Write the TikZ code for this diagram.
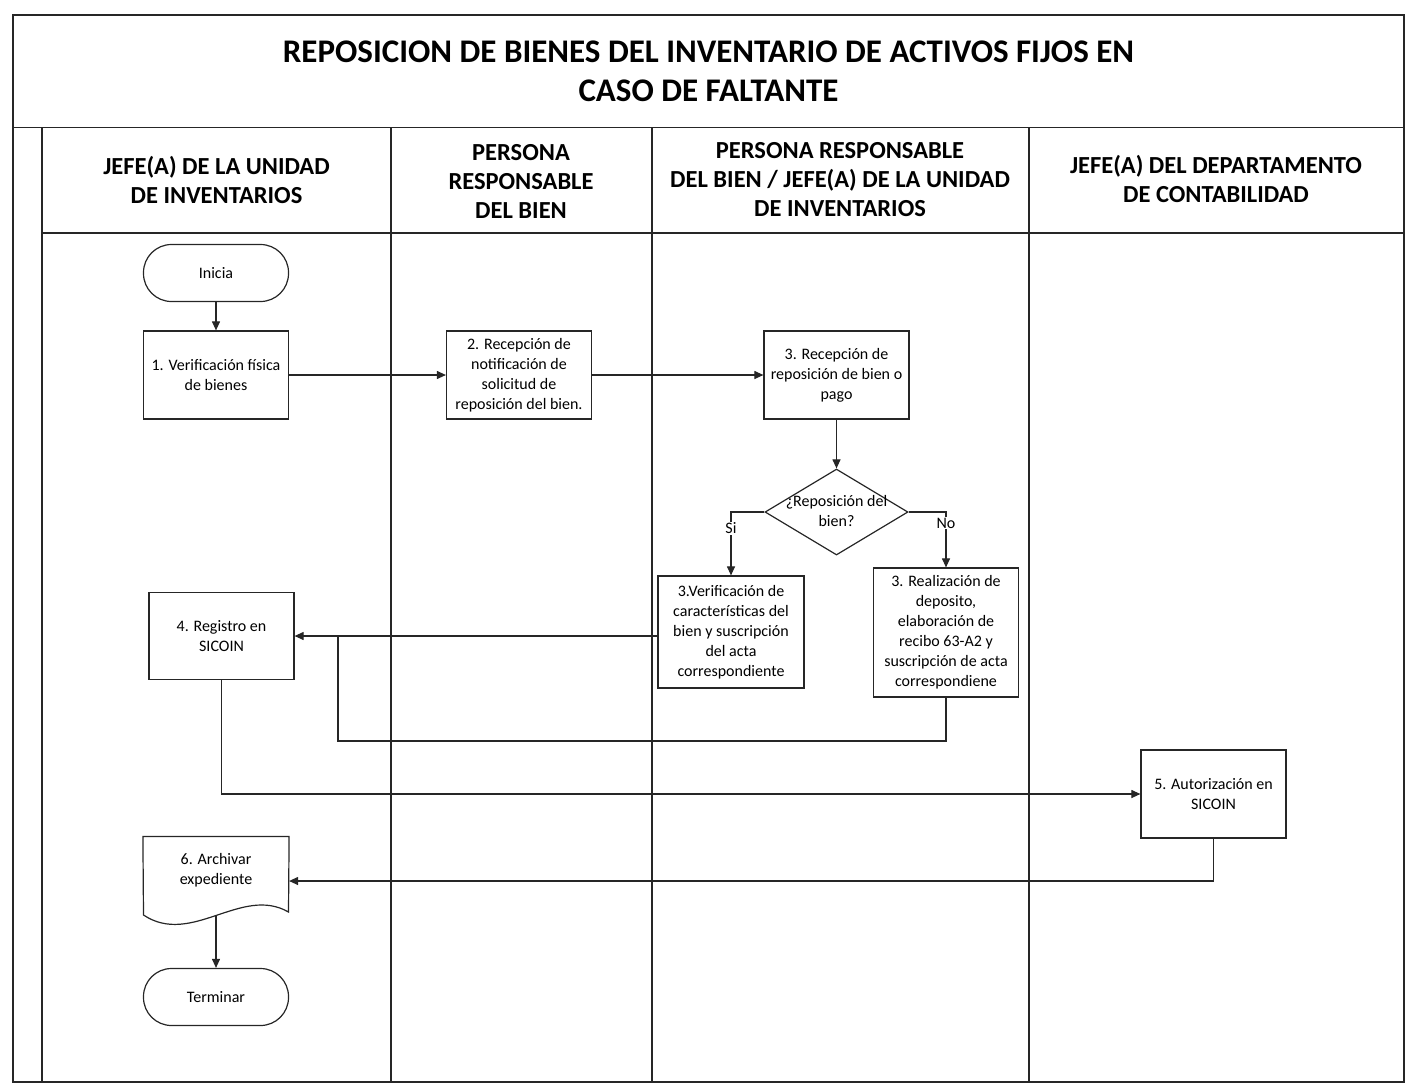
\documentclass[tikz,border=0pt]{standalone}
\usepackage{fontspec}
\setmainfont{Carlito}
\usetikzlibrary{shapes.geometric,arrows.meta,calc}
\begin{document}
\begin{tikzpicture}[x=1pt,y=-1pt,
  lane/.style={line width=1.6pt, draw=black!85},
  box/.style={draw=black!85, line width=1.2pt, rectangle, minimum width=145pt, minimum height=88pt, align=center, font=\fontsize{16}{20}\selectfont, inner sep=1pt},
  term/.style={box, rounded corners=28pt, minimum height=57pt},
  arr/.style={line width=1.1pt, draw=black!85, -{Triangle[length=9pt,width=8pt]}},
  conn/.style={line width=1.1pt, draw=black!85},
  hdr/.style={font=\fontsize{24.5}{29}\selectfont\bfseries, align=center},
  lbl/.style={fill=white, inner sep=1pt, font=\fontsize{16}{18}\selectfont}
]
\useasboundingbox (0,0) rectangle (1414,1085);
% frame and lanes
\draw[lane] (13,15) rectangle (1404,1082);
\draw[lane] (13,127.5) -- (1404,127.5);
\draw[lane] (42,233) -- (1404,233);
\foreach \x in {42,391,652,1029} \draw[lane] (\x,127.5) -- (\x,1082);
% titles
\node[font=\fontsize{33}{39}\selectfont\bfseries, align=center] (title) at (708.5,71) {REPOSICION DE BIENES DEL INVENTARIO DE ACTIVOS FIJOS EN\\CASO DE FALTANTE};
\node[hdr] (h1) at (216.5,180) {JEFE(A) DE LA UNIDAD\\DE INVENTARIOS};
\node[hdr] (h2) at (521,181) {PERSONA\\RESPONSABLE\\DEL BIEN};
\node[hdr] (h3) at (840,180) {PERSONA RESPONSABLE\\DEL BIEN / JEFE(A) DE LA UNIDAD\\DE INVENTARIOS};
\node[hdr] (h4) at (1216,179) {JEFE(A) DEL DEPARTAMENTO\\DE CONTABILIDAD};
% nodes
\node[term] (ini) at (216,273) {Inicia};
\node[box] (ver) at (216,375) {1. Verificación física\\de bienes};
\node[box] (rec2) at (519,375) {2. Recepción de\\notificación de\\solicitud de\\reposición del bien.};
\node[box] (rec3) at (836.5,375) {3. Recepción de\\reposición de bien o\\pago};
\node[diamond, draw=black!85, line width=1.2pt, minimum width=143pt, minimum height=86pt, inner sep=0pt] (dec) at (836.5,512) {};
\node[align=center, font=\fontsize{16}{20}\selectfont] (dectxt) at (836.5,511) {¿Reposición del\\bien?};
\node[box, minimum width=146pt, minimum height=112pt] (vcar) at (731,632) {3.Verificación de\\características del\\bien y suscripción\\del acta\\correspondiente};
\node[box, minimum height=129pt] (real) at (946,632.5) {3. Realización de\\deposito,\\elaboración de\\recibo 63-A2 y\\suscripción de acta\\correspondiene};
\node[box, minimum height=87pt] (reg) at (221.5,636) {4. Registro en\\SICOIN};
\node[box] (aut) at (1213.5,794) {5. Autorización en\\SICOIN};
\node[box, draw=none, minimum height=66pt] (arch) at (216,870) {6. Archivar\\expediente};
\draw[draw=black!85, line width=1.2pt] (arch.north west) -- (arch.north east) -- (288.5,912) .. controls (241.5,885) and (191.5,947) .. (143.5,915) -- cycle;
\coordinate (wv) at (216,915);
\node[term] (fin) at (216,997) {Terminar};
% connectors
\draw[arr] (ini) -- (ver);
\draw[arr] (ver) -- (rec2);
\draw[arr] (rec2) -- (rec3);
\draw[arr] (rec3) -- (dec);
\draw[arr] (dec.west) -| (vcar.north) node[lbl, pos=0.63] (si) {Si};
\draw[arr] (dec.east) -| (real.north) node[lbl, pos=0.6] (no) {No};
\draw[arr] (vcar.west |- reg.east) -- (reg.east);
\coordinate (j1) at (338,741);
\draw[conn] (real.south) |- (j1) -- (j1 |- reg.east);
\draw[arr] (reg.south) |- (aut.west);
\draw[arr] (aut.south) |- ([yshift=-11pt]arch.east);
\draw[arr] (wv) -- (fin.north);
\end{tikzpicture}
\end{document}
